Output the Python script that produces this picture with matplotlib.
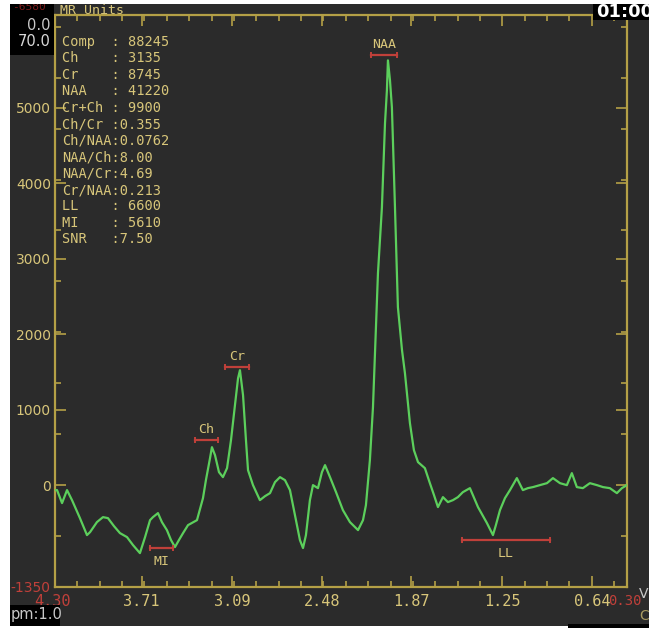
import numpy as np
import matplotlib.pyplot as plt
from matplotlib.patches import Rectangle
from matplotlib.ticker import FixedLocator, AutoMinorLocator

# spectrum trace: chemical shift (ppm) and signal (MR units)
ppm = [4.300, 4.286, 4.252, 4.218, 4.184, 4.130, 4.082, 4.061, 4.014, 3.973,
       3.939, 3.898, 3.857, 3.809, 3.768, 3.721, 3.686, 3.652, 3.632, 3.598,
       3.571, 3.537, 3.509, 3.482, 3.455, 3.427, 3.393, 3.332, 3.291, 3.271,
       3.243, 3.230, 3.209, 3.182, 3.155, 3.127, 3.100, 3.073, 3.052, 3.039,
       3.018, 2.998, 2.984, 2.950, 2.903, 2.868, 2.834, 2.800, 2.766, 2.732,
       2.698, 2.664, 2.630, 2.609, 2.589, 2.562, 2.541, 2.507, 2.480, 2.459,
       2.425, 2.384, 2.337, 2.289, 2.234, 2.200, 2.180, 2.153, 2.132, 2.098,
       2.071, 2.050, 2.037, 2.030, 2.016, 2.003, 1.996, 1.982, 1.962, 1.934,
       1.914, 1.880, 1.853, 1.825, 1.778, 1.744, 1.716, 1.689, 1.655, 1.621,
       1.587, 1.553, 1.519, 1.471, 1.416, 1.355, 1.314, 1.294, 1.266, 1.232,
       1.198, 1.151, 1.110, 1.076, 1.041, 0.994, 0.946, 0.905, 0.857, 0.810,
       0.776, 0.742, 0.701, 0.653, 0.605, 0.564, 0.517, 0.469, 0.435, 0.401]
signal = [-66, -66, -238, -66, -199, -437, -662, -623, -490, -424,
          -437, -543, -636, -689, -795, -901, -689, -464, -424, -371,
          -490, -596, -728, -821, -728, -636, -530, -464, -172, 66,
          358, 503, 397, 172, 106, 225, 596, 1060, 1417, 1523,
          1192, 596, 199, 0, -199, -146, -106, 40, 106, 66,
          -66, -397, -728, -834, -662, -199, 0, -40, 172, 265,
          106, -93, -331, -490, -596, -464, -265, 331, 1033, 2808,
          3682, 4795, 5232, 5629, 5364, 5007, 4570, 3682, 2358, 1788,
          1483, 821, 464, 305, 225, 26, -132, -291, -159, -225,
          -199, -159, -93, -40, -291, -503, -662, -530, -331, -172,
          -66, 93, -66, -40, -26, 0, 26, 93, 26, 0,
          159, -26, -40, 26, 0, -26, -40, -106, -40, 0]

# peak integration markers
marker_names = ['MI', 'Ch', 'Cr', 'NAA', 'LL']
marker_left = [3.652, 3.345, 3.141, 2.146, 1.525]
marker_right = [3.496, 3.189, 2.977, 1.967, 0.924]
marker_level = [-834, 596, 1563, 5695, -728]
label_above = [False, True, True, True, False]

# results table
table_keys = ['Comp', 'Ch', 'Cr', 'NAA', 'Cr+Ch', 'Ch/Cr', 'Ch/NAA',
              'NAA/Ch', 'NAA/Cr', 'Cr/NAA', 'LL', 'MI', 'SNR']
table_values = ['88245', '3135', '8745', '41220', '9900', '0.355', '0.0762',
                '8.00', '4.69', '0.213', '6600', '5610', '7.50']

xtick_values = [3.71, 3.09, 2.48, 1.87, 1.25, 0.64]
ytick_values = [-1350, 0, 1000, 2000, 3000, 4000, 5000]

BG = '#2b2b2b'
GOLD = '#b4a046'
TAN = '#d8c67a'
RED = '#c0403a'
GREEN = '#5ccf5c'
MONO = 'DejaVu Sans Mono'

W, H = 649, 628
fig = plt.figure(figsize=(W / 100, H / 100), dpi=100, facecolor='white')


def fx(px):
    return px / W


def fy(py):
    return 1 - py / H


def box(x0, y0, x1, y1, color, z):
    fig.add_artist(Rectangle((fx(x0), fy(y1)), fx(x1) - fx(x0), fy(y0) - fy(y1),
                             transform=fig.transFigure, facecolor=color,
                             edgecolor='none', zorder=z))


# screen background
box(10, 4, W, 626, BG, -1)

ax = fig.add_axes([fx(55), fy(587), fx(627) - fx(55), fy(15) - fy(587)])
ax.set_facecolor(BG)
ax.plot(ppm, signal, color=GREEN, lw=1.6, zorder=3)
ax.set_xlim(4.30, 0.40)
ax.set_ylim(-1350, 6230)

for sp in ax.spines.values():
    sp.set_color(GOLD)
    sp.set_linewidth(1.6)

ax.xaxis.set_major_locator(FixedLocator(xtick_values))
ax.xaxis.set_minor_locator(AutoMinorLocator(4))
ax.set_xticklabels([f'{v:.2f}' for v in xtick_values])
ax.yaxis.set_major_locator(FixedLocator(ytick_values))
ax.yaxis.set_minor_locator(AutoMinorLocator(2))
ax.set_yticklabels([str(v) for v in ytick_values])

ax.tick_params(which='both', direction='in', colors=GOLD, width=1.2,
               top=True, right=True, labelcolor=TAN)
ax.tick_params(which='major', length=8)
ax.tick_params(which='minor', length=4)
ax.tick_params(axis='x', pad=5, labelsize=11)
ax.tick_params(axis='y', pad=3, labelsize=10)
for lab in ax.get_xticklabels():
    lab.set_fontfamily(MONO)
for lab in ax.get_yticklabels():
    lab.set_fontfamily('DejaVu Sans')
ax.get_yticklabels()[0].set_color(RED)

# red end-of-range labels on the shift axis
ax.text(-0.005, -0.025, '4.30', transform=ax.transAxes, color=RED,
        fontsize=11, family=MONO, ha='center', va='center')
ax.text(0.997, -0.025, '0.30', transform=ax.transAxes, color=RED,
        fontsize=10, family=MONO, ha='center', va='center', clip_on=False)

# integration ranges
for name, lo, hi, lev, up in zip(marker_names, marker_left, marker_right,
                                 marker_level, label_above):
    ax.plot([lo, hi], [lev, lev], color=RED, lw=1.6, marker='|', ms=5,
            mew=1.4, zorder=4)
    ax.annotate(name, ((lo + hi) / 2, lev), xytext=(0, 3 if up else -5),
                textcoords='offset points', ha='center',
                va='bottom' if up else 'top', color=TAN, fontsize=9.5,
                family=MONO, zorder=5)

# results listing
for i, (k, v) in enumerate(zip(table_keys, table_values)):
    sep = ':' if '.' in v else ': '
    fig.text(fx(62), fy(42 + 16.45 * i), f'{k:<6}{sep}{v}', color=TAN,
             fontsize=9.8, family=MONO, va='center', ha='left', zorder=3)

fig.text(fx(60), fy(14), 'MR Units', color=TAN, fontsize=9.5, family=MONO,
         va='baseline', zorder=3)

# status boxes around the plot
box(10, 4, 54, 55, 'black', 2)
fig.text(fx(12), fy(10), '-6580', color='#7a1c1c', fontsize=8, family=MONO,
         va='baseline', zorder=3)
fig.text(fx(51), fy(26), '0.0', color='#c8c8c8', fontsize=10.5, ha='right',
         va='center', zorder=3)
fig.text(fx(51), fy(42), '70.0', color='#d8d8d8', fontsize=10.5, ha='right',
         va='center', zorder=3)

box(593, 0, W, 20, 'black', 2)
fig.text(fx(596), fy(17), '01:00', color='white', fontsize=13,
         fontweight='bold', va='baseline', zorder=3)

box(10, 605, 60, 626, 'black', 2)
fig.text(fx(11), fy(615), 'pm:1.0', color='#c8c8c8', fontsize=10.5,
         va='center', zorder=3)
box(568, 624, W, H, 'black', 2)

fig.text(fx(639), fy(594), 'V', color='#c8c8c8', fontsize=10, va='center',
         zorder=3)
fig.text(fx(639), fy(616), 'C', color='#a89a60', fontsize=10, va='center',
         zorder=3)

# white frame edges
box(0, 0, W, 4, 'white', 10)
box(0, 0, 10, H, 'white', 10)
box(190, 626, 568, H, 'white', 10)

fig.savefig('out.png', dpi=100, facecolor='white')
